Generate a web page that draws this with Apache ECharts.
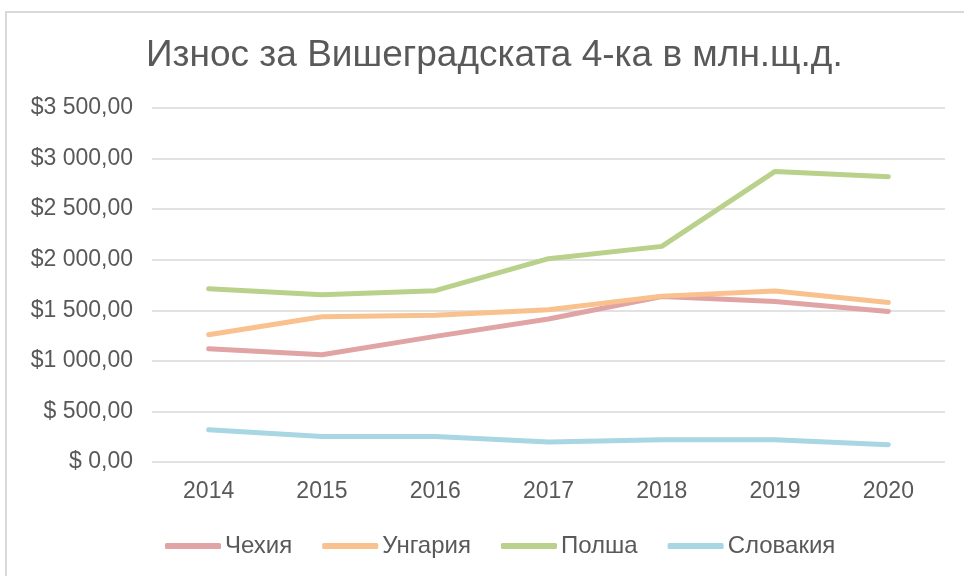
<!DOCTYPE html>
<html>
<head>
<meta charset="utf-8">
<script src="https://cdn.jsdelivr.net/npm/echarts@6/dist/echarts.min.js"></script>
<style>
  html, body { margin: 0; padding: 0; background: #ffffff; overflow: hidden; }
  .chart-box {
    position: absolute;
    left: 5px;
    top: 11px;
    width: 970px;
    height: 580px;
    border: 2px solid #d9d9d9;
    background: #ffffff;
  }
  #chart { position: absolute; left: -7px; top: -13px; width: 964px; height: 576px; }
</style>
</head>
<body>
<div class="chart-box"><div id="chart"></div></div>
<script>
// години
const years = ["2014", "2015", "2016", "2017", "2018", "2019", "2020"];
// износ по страни, млн. щ.д.
const czechia = [1120, 1061, 1242, 1414, 1637, 1588, 1489];
const hungary = [1259, 1437, 1450, 1506, 1640, 1691, 1578];
const poland = [1713, 1654, 1694, 2010, 2132, 2873, 2821];
const slovakia = [319, 253, 253, 198, 220, 220, 171];
const seriesNames = ["Чехия", "Унгария", "Полша", "Словакия"];
const seriesColors = ["#e0a4a4", "#f9c18e", "#b9d18b", "#a8d6e2"];

const font = "'Liberation Sans', Arial, sans-serif";

const fmtMoney = v => {
  const parts = v.toFixed(2).split(".");
  const intPart = parts[0].replace(/\B(?=(\d{3})+(?!\d))/g, " ");
  return v < 1000 ? "$ " + intPart + "," + parts[1] : "$" + intPart + "," + parts[1];
};

const myChart = echarts.init(document.getElementById("chart"));
const dataSets = [czechia, hungary, poland, slovakia];

const option = {
  animation: false,
  color: seriesColors,
  title: {
    text: "Износ за Вишеградската 4-ка в млн.щ.д.",
    left: 141,
    top: 32,
    textStyle: { fontFamily: font, fontSize: 37, fontWeight: "normal", color: "#595959" }
  },
  legend: {
    bottom: 13,
    left: 160,
    itemWidth: 56,
    itemHeight: 6,
    itemGap: 30,
    icon: "roundRect",
    textStyle: { fontFamily: font, fontSize: 24, color: "#595959", padding: [0, 0, 0, -1] },
    data: seriesNames
  },
  grid: { left: 152, right: 19, top: 108, bottom: 114 },
  xAxis: {
    type: "category",
    data: years,
    boundaryGap: true,
    axisLine: { show: false },
    axisTick: { show: false },
    axisLabel: { fontFamily: font, fontSize: 23, color: "#595959", margin: 18 }
  },
  yAxis: {
    type: "value",
    min: 0,
    max: 3500,
    interval: 500,
    axisLine: { show: false },
    axisTick: { show: false },
    axisLabel: { fontFamily: font, fontSize: 23, color: "#595959", margin: 19, formatter: fmtMoney },
    splitLine: { lineStyle: { color: "#d9d9d9", width: 1.5 } }
  },
  series: seriesNames.map((name, i) => ({
    name: name,
    type: "line",
    data: dataSets[i],
    symbol: "none",
    lineStyle: { width: 5, cap: "round", join: "round" }
  }))
};
myChart.setOption(option);
</script>
</body>
</html>
